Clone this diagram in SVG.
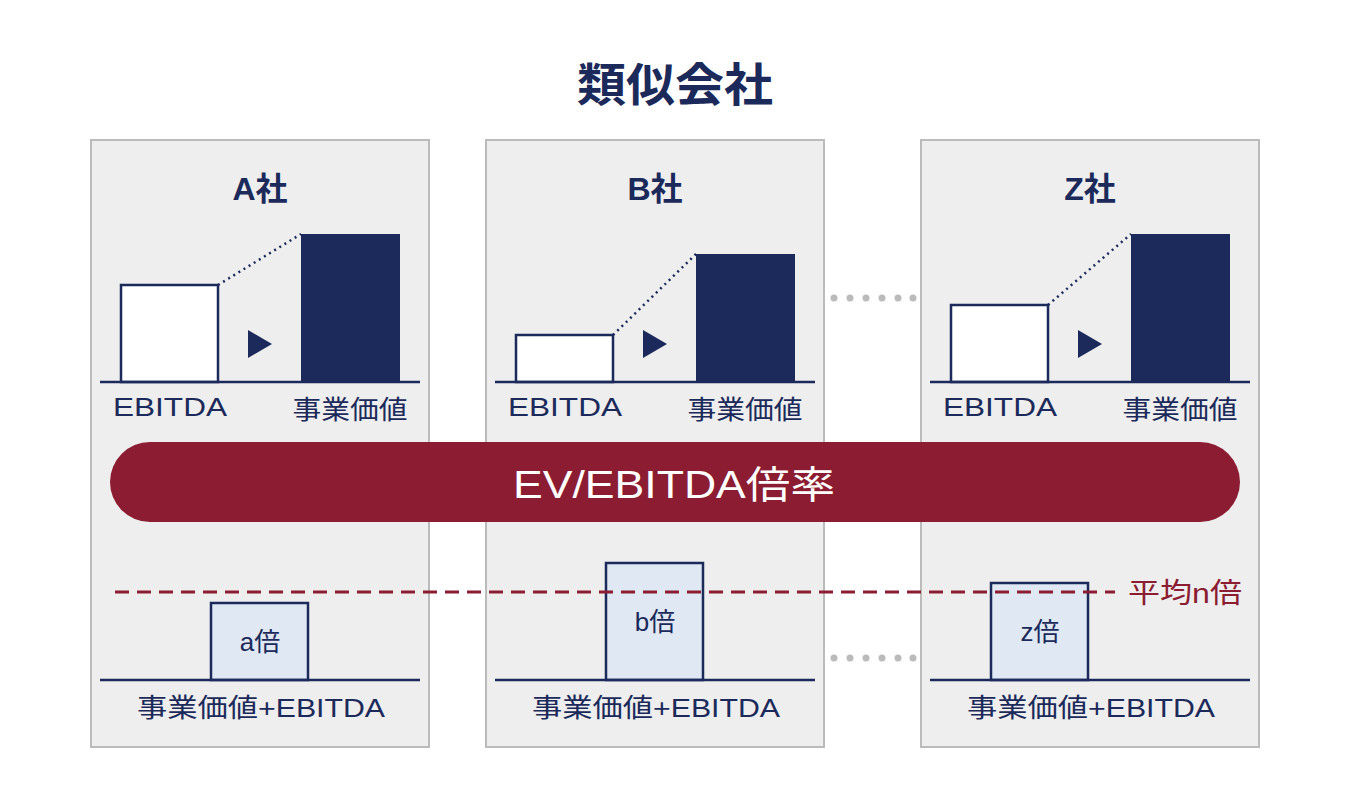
<svg xmlns="http://www.w3.org/2000/svg" width="1350" height="809" viewBox="0 0 1350 809">
<style>
text{font-family:"Liberation Sans","Noto Sans CJK JP",sans-serif;fill:#1b2a5a;text-anchor:middle}
.panel{fill:#eeeeee;stroke:#bbbbbb;stroke-width:2}
.wb{fill:#fff;stroke:#1b2a5a;stroke-width:2.5}
.db{fill:#1b2a5a}
.base{stroke:#1b2a5a;stroke-width:2.5}
.dot{stroke:#1b2a5a;stroke-width:2.5;stroke-dasharray:2 4}
.lb{fill:#dfe8f3;stroke:#1b2a5a;stroke-width:2.5}
.t{font-size:32px;font-weight:bold}
.s{font-size:26px}
.gd{fill:#bbbbbb}
</style>
<rect width="1350" height="809" fill="#fff"/>
<text x="675" y="101" style="font-size:46px;font-weight:bold" textLength="196" lengthAdjust="spacingAndGlyphs">類似会社</text>
<g id="panelA">
<rect class="panel" x="91" y="140" width="338" height="607"/>
<text class="t" x="260" y="200">A社</text>
<rect class="wb" x="121" y="285" width="97" height="97"/>
<rect class="db" x="301" y="234" width="99" height="148"/>
<line class="dot" x1="218" y1="285" x2="301" y2="234"/>
<polygon class="db" points="248,330 272,344 248,358"/>
<line class="base" x1="100" y1="382" x2="420" y2="382"/>
<text class="s" x="170" y="416" textLength="114" lengthAdjust="spacingAndGlyphs">EBITDA</text>
<text class="s" x="350" y="419" textLength="115" lengthAdjust="spacingAndGlyphs">事業価値</text>
<rect class="lb" x="211" y="603" width="97" height="77"/>
<text class="s" x="260" y="651">a倍</text>
<line class="base" x1="100" y1="680" x2="420" y2="680"/>
<text class="s" x="261" y="717" textLength="248" lengthAdjust="spacingAndGlyphs">事業価値+EBITDA</text>
</g>
<g id="panelB">
<rect class="panel" x="486" y="140" width="338" height="607"/>
<text class="t" x="655" y="200">B社</text>
<rect class="wb" x="516" y="335" width="97" height="47"/>
<rect class="db" x="696" y="254" width="99" height="128"/>
<line class="dot" x1="613" y1="335" x2="696" y2="254"/>
<polygon class="db" points="643,330 667,344 643,358"/>
<line class="base" x1="495" y1="382" x2="815" y2="382"/>
<text class="s" x="565" y="416" textLength="114" lengthAdjust="spacingAndGlyphs">EBITDA</text>
<text class="s" x="745" y="419" textLength="115" lengthAdjust="spacingAndGlyphs">事業価値</text>
<rect class="lb" x="606" y="563" width="97" height="117"/>
<text class="s" x="655" y="631">b倍</text>
<line class="base" x1="495" y1="680" x2="815" y2="680"/>
<text class="s" x="656" y="717" textLength="248" lengthAdjust="spacingAndGlyphs">事業価値+EBITDA</text>
</g>
<g id="panelZ">
<rect class="panel" x="921" y="140" width="338" height="607"/>
<text class="t" x="1090" y="200">Z社</text>
<rect class="wb" x="951" y="305" width="97" height="77"/>
<rect class="db" x="1131" y="234" width="99" height="148"/>
<line class="dot" x1="1048" y1="305" x2="1131" y2="234"/>
<polygon class="db" points="1078,330 1102,344 1078,358"/>
<line class="base" x1="930" y1="382" x2="1250" y2="382"/>
<text class="s" x="1000" y="416" textLength="114" lengthAdjust="spacingAndGlyphs">EBITDA</text>
<text class="s" x="1180" y="419" textLength="115" lengthAdjust="spacingAndGlyphs">事業価値</text>
<rect class="lb" x="991" y="583" width="97" height="97"/>
<text class="s" x="1040" y="641">z倍</text>
<line class="base" x1="930" y1="680" x2="1250" y2="680"/>
<text class="s" x="1091" y="717" textLength="248" lengthAdjust="spacingAndGlyphs">事業価値+EBITDA</text>
</g>
<g id="pill">
<rect x="110" y="442" width="1130" height="80" rx="40" fill="#8b1c31"/>
<text x="674" y="498" style="font-size:38px;fill:#fff" textLength="322" lengthAdjust="spacingAndGlyphs">EV/EBITDA倍率</text>
</g>
<g id="connectors">
<line x1="115" y1="592" x2="1115" y2="592" stroke="#8b1c31" stroke-width="3" stroke-dasharray="14 8"/>
<g class="gd">
<circle cx="834" cy="298" r="3.5"/><circle cx="850" cy="298" r="3.5"/><circle cx="866" cy="298" r="3.5"/><circle cx="882" cy="298" r="3.5"/><circle cx="898" cy="298" r="3.5"/><circle cx="913" cy="298" r="3.5"/>
<circle cx="834" cy="658" r="3.5"/><circle cx="850" cy="658" r="3.5"/><circle cx="866" cy="658" r="3.5"/><circle cx="882" cy="658" r="3.5"/><circle cx="898" cy="658" r="3.5"/><circle cx="913" cy="658" r="3.5"/>
</g>
</g>
<text x="1185" y="603" style="font-size:28px;fill:#8b1c31" textLength="114" lengthAdjust="spacingAndGlyphs">平均n倍</text>
</svg>
